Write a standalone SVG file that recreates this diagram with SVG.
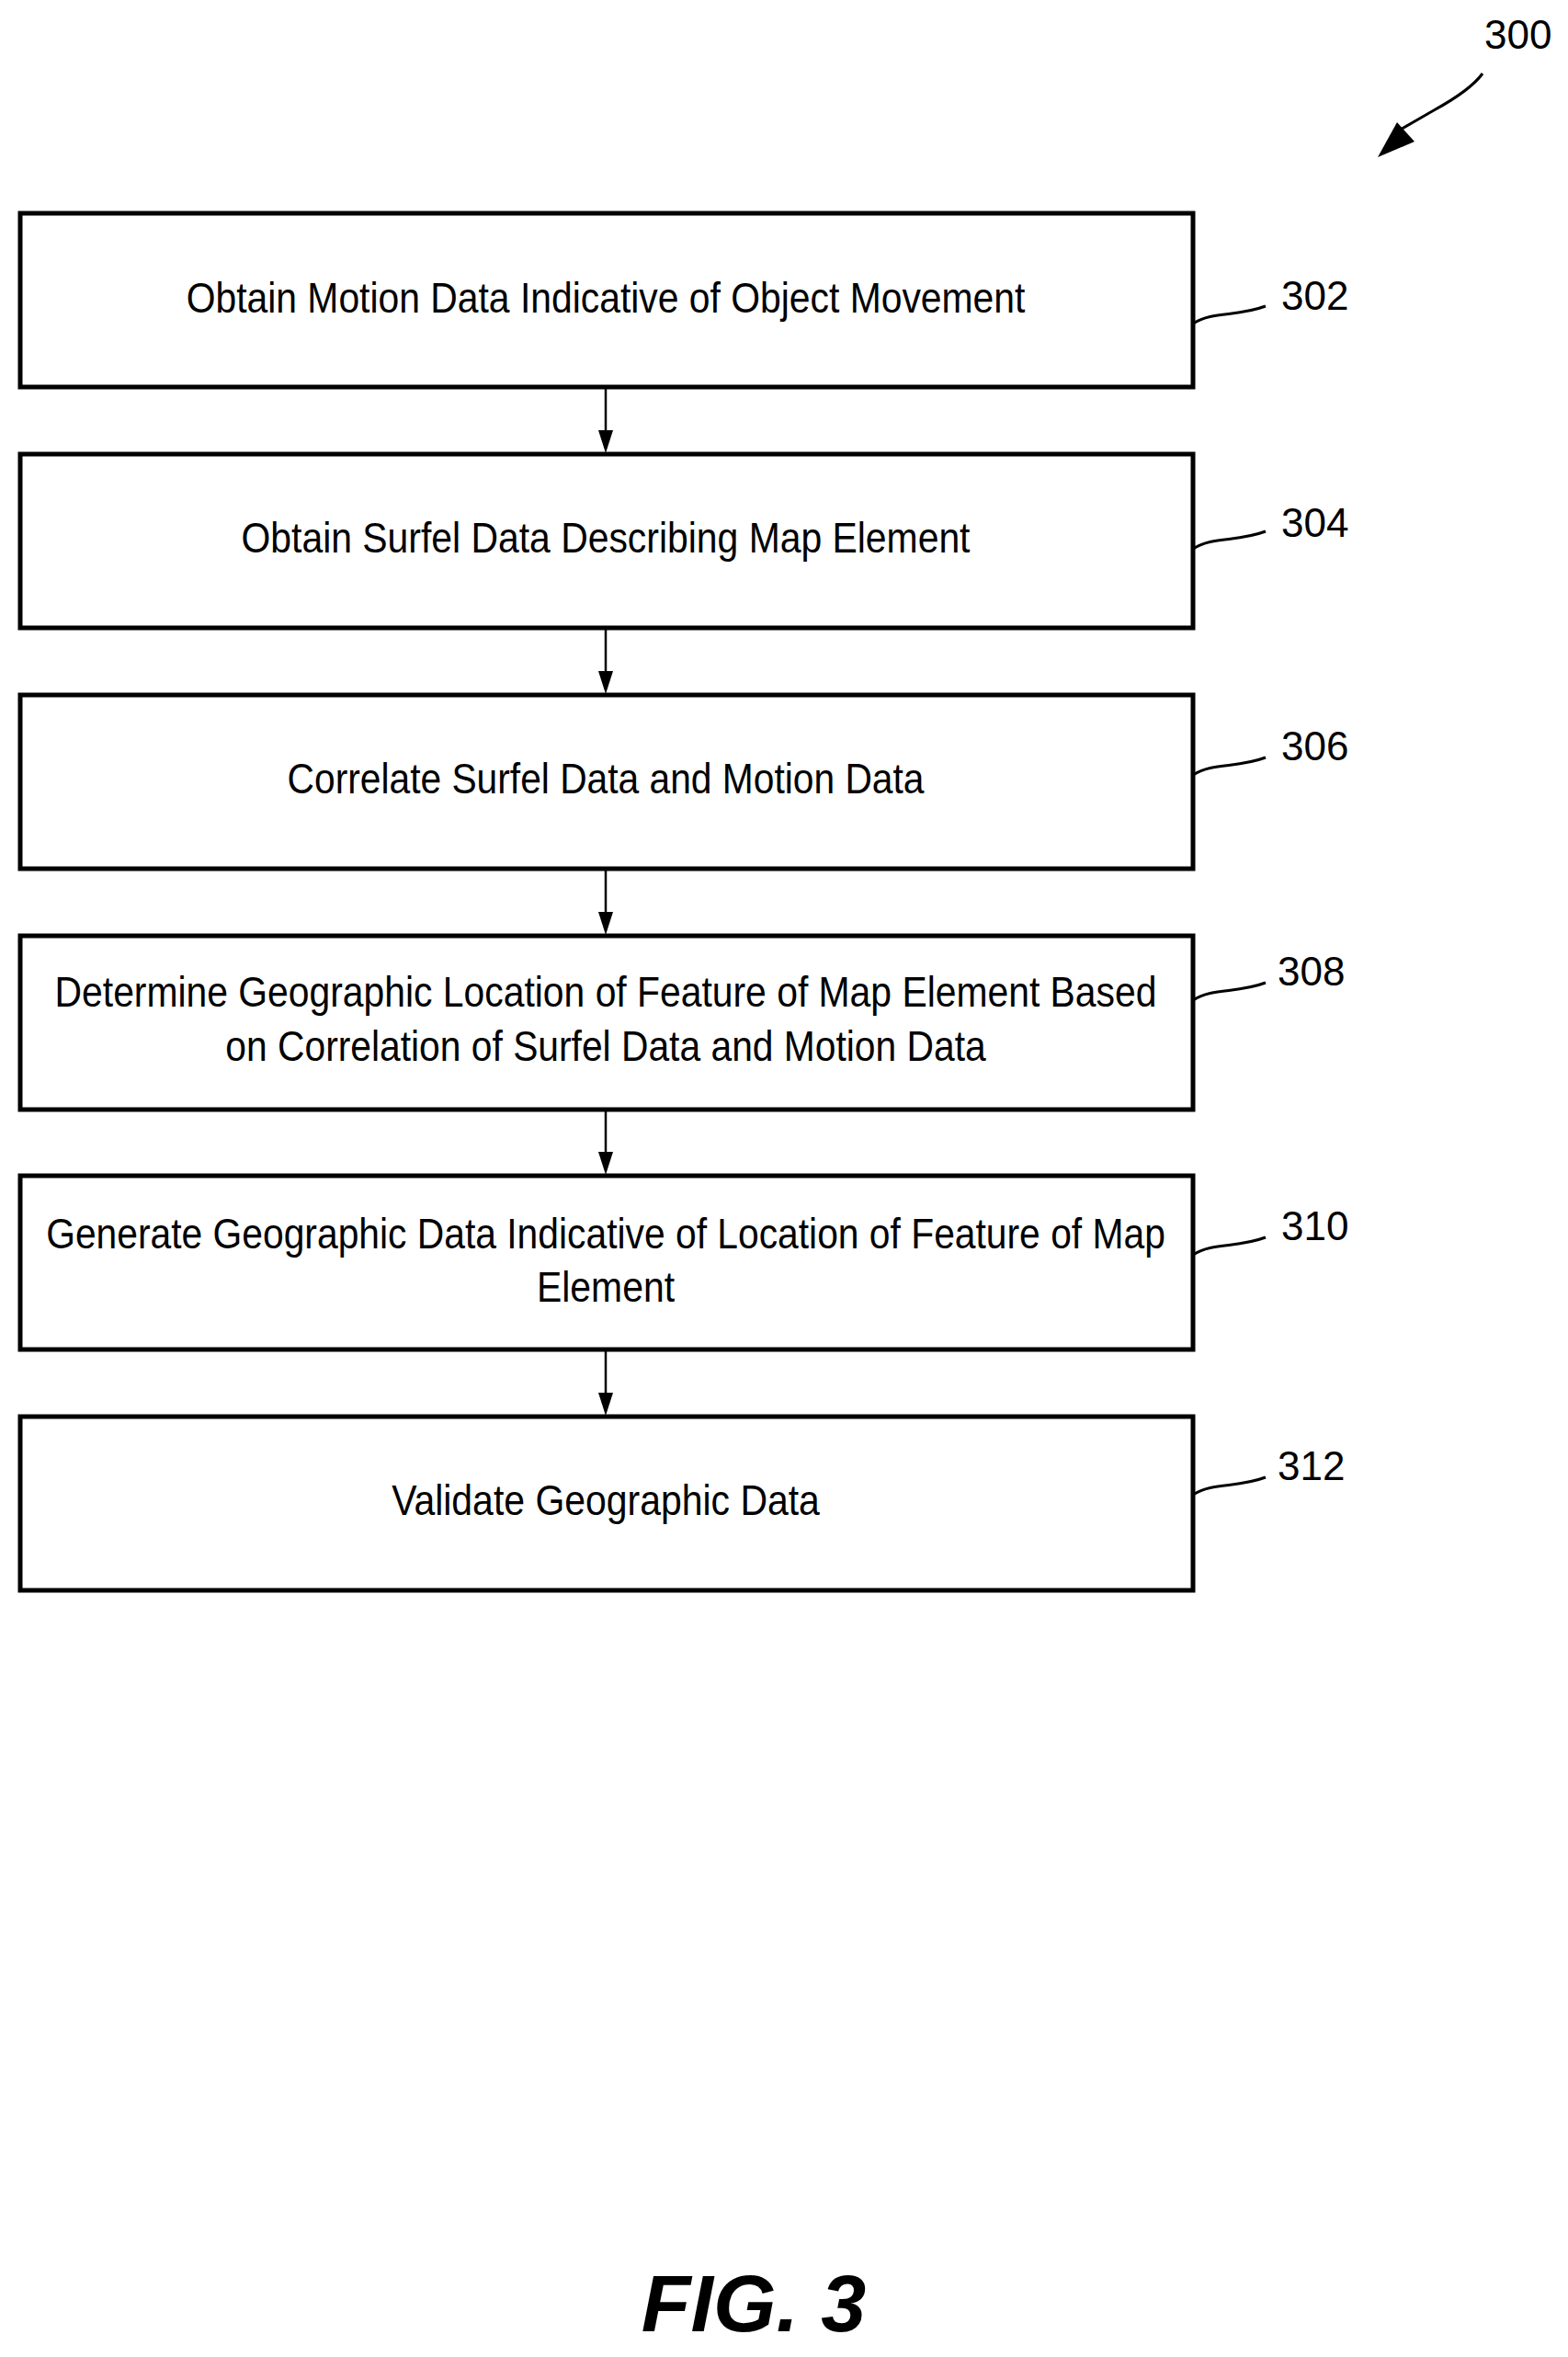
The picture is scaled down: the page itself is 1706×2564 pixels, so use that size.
<svg xmlns="http://www.w3.org/2000/svg" width="1706" height="2564" viewBox="0 0 1706 2564">
<style>
.box{fill:#fff;stroke:#000;stroke-width:5}
.t{font-family:"Liberation Sans Narrow","Liberation Sans",sans-serif;font-size:46px;text-anchor:middle;fill:#000}
.lbl{font-family:"Liberation Sans",Arial,sans-serif;font-size:44px;fill:#000}
.ld{fill:none;stroke:#000;stroke-width:3}
.cn{stroke:#000;stroke-width:2.5}
</style>
<rect width="1706" height="2564" fill="#fff"/>
<g id="connectors">
<line class="cn" x1="659" y1="422" x2="659" y2="470"/><path d="M651,468 L667,468 L659,493Z"/>
<line class="cn" x1="659" y1="684" x2="659" y2="732"/><path d="M651,730 L667,730 L659,755Z"/>
<line class="cn" x1="659" y1="946" x2="659" y2="994"/><path d="M651,992 L667,992 L659,1017Z"/>
<line class="cn" x1="659" y1="1208" x2="659" y2="1255"/><path d="M651,1253 L667,1253 L659,1278Z"/>
<line class="cn" x1="659" y1="1470" x2="659" y2="1517"/><path d="M651,1515 L667,1515 L659,1540Z"/>
</g>
<g id="ref300">
<text class="lbl" x="1615" y="53">300</text>
<path class="ld" d="M1613,80 Q1600,98 1560,120 L1520,143" stroke-width="4"/>
<path d="M1499,171 L1520,133 L1539,154Z"/>
</g>
<g id="n302"><rect class="box" x="22" y="232" width="1276" height="189"/><g transform="translate(659,0) scale(0.82,1)"><text class="t" x="0" y="340" textLength="1113" lengthAdjust="spacingAndGlyphs">Obtain Motion Data Indicative of Object Movement</text></g>
<path class="ld" d="M1298,352 C1320,338 1345,345 1377,333"/><text class="lbl" x="1394" y="337">302</text></g>
<g id="n304"><rect class="box" x="22" y="494" width="1276" height="189"/><g transform="translate(659,0) scale(0.82,1)"><text class="t" x="0" y="601" textLength="967" lengthAdjust="spacingAndGlyphs">Obtain Surfel Data Describing Map Element</text></g>
<path class="ld" d="M1298,597 C1320,583 1345,590 1377,578"/><text class="lbl" x="1394" y="584">304</text></g>
<g id="n306"><rect class="box" x="22" y="756" width="1276" height="189"/><g transform="translate(659,0) scale(0.82,1)"><text class="t" x="0" y="863" textLength="845" lengthAdjust="spacingAndGlyphs">Correlate Surfel Data and Motion Data</text></g>
<path class="ld" d="M1298,843 C1320,829 1345,836 1377,824"/><text class="lbl" x="1394" y="827">306</text></g>
<g id="n308"><rect class="box" x="22" y="1018" width="1276" height="189"/><g transform="translate(659,0) scale(0.82,1)"><text class="t" x="0" y="1095" textLength="1462" lengthAdjust="spacingAndGlyphs">Determine Geographic Location of Feature of Map Element Based</text><text class="t" x="0" y="1154" textLength="1009" lengthAdjust="spacingAndGlyphs">on Correlation of Surfel Data and Motion Data</text></g>
<path class="ld" d="M1298,1088 C1320,1074 1345,1081 1377,1069"/><text class="lbl" x="1390" y="1072">308</text></g>
<g id="n310"><rect class="box" x="22" y="1279" width="1276" height="189"/><g transform="translate(659,0) scale(0.82,1)"><text class="t" x="0" y="1358" textLength="1485" lengthAdjust="spacingAndGlyphs">Generate Geographic Data Indicative of Location of Feature of Map</text><text class="t" x="0" y="1416" textLength="183" lengthAdjust="spacingAndGlyphs">Element</text></g>
<path class="ld" d="M1298,1365 C1320,1351 1345,1358 1377,1346"/><text class="lbl" x="1394" y="1349">310</text></g>
<g id="n312"><rect class="box" x="22" y="1541" width="1276" height="189"/><g transform="translate(659,0) scale(0.82,1)"><text class="t" x="0" y="1648" textLength="568" lengthAdjust="spacingAndGlyphs">Validate Geographic Data</text></g>
<path class="ld" d="M1298,1626 C1320,1612 1345,1619 1377,1607"/><text class="lbl" x="1390" y="1610">312</text></g>
<text x="820" y="2536" font-family="Liberation Sans,Arial,sans-serif" font-size="88" font-weight="bold" font-style="italic" text-anchor="middle">FIG. 3</text>
</svg>
